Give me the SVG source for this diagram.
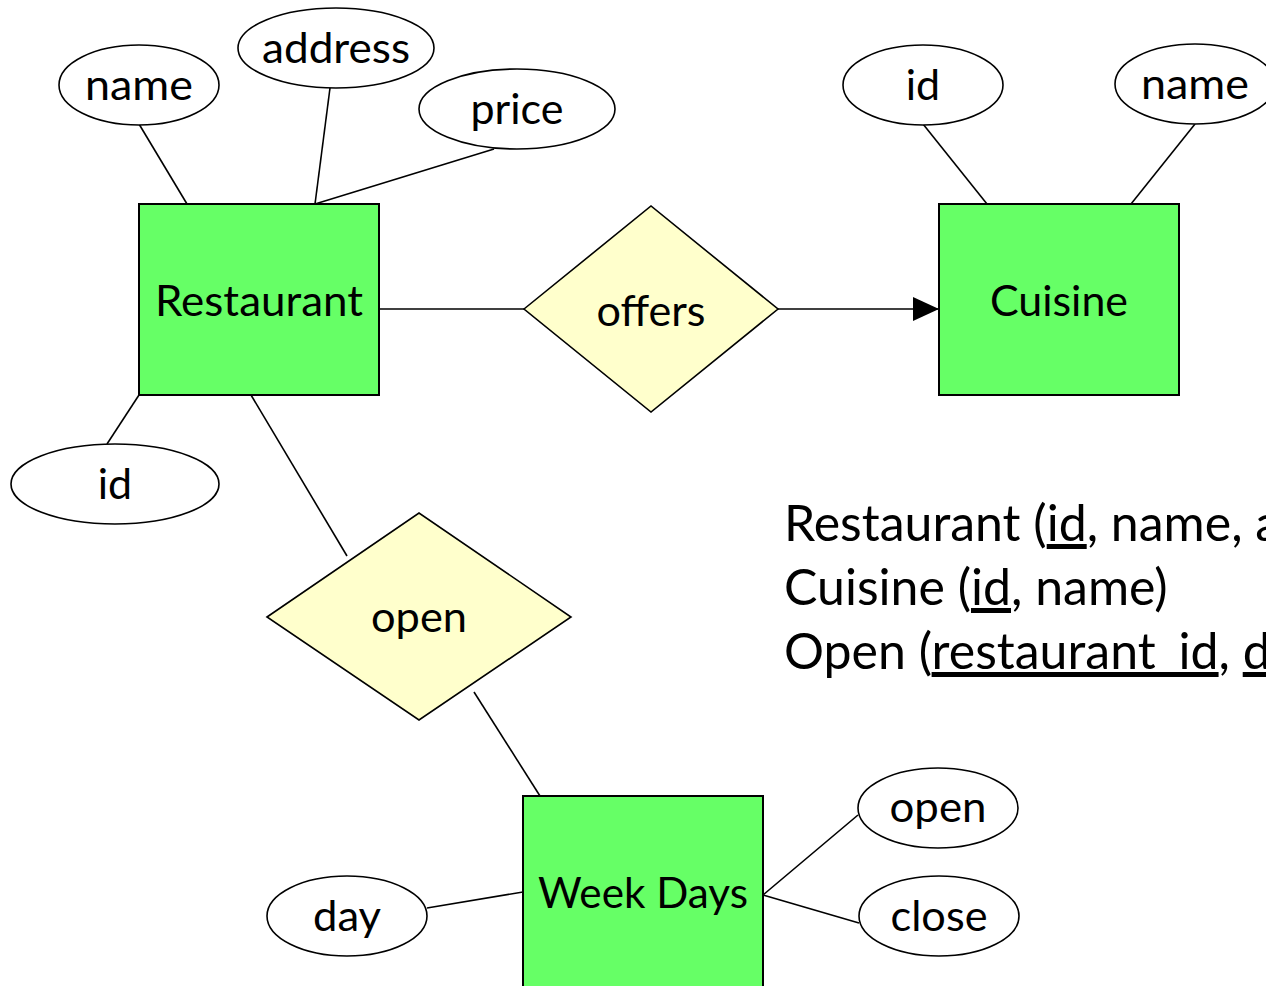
<svg xmlns="http://www.w3.org/2000/svg" width="1266" height="986" viewBox="0 0 1266 986">
  <defs>
    <marker id="arrow" viewBox="0 0 26 24" refX="26" refY="12" markerWidth="26" markerHeight="24" markerUnits="userSpaceOnUse" orient="auto">
      <path d="M0,0 L26,12 L0,24 Z" fill="#000"/>
    </marker>
    <style>
      .entity { fill: #66FF66; stroke: #000; stroke-width: 2; }
      .rel { fill: #FFFFCC; stroke: #000; stroke-width: 1.6; }
      .attr { fill: #FFFFFF; stroke: #000; stroke-width: 1.6; }
      .link { stroke: #000; stroke-width: 1.6; fill: none; }
      .lbl { font-family: Lato, "Liberation Sans", sans-serif; font-size: 43px; fill: #000; text-anchor: middle; }
      .schema { font-family: Lato, "Liberation Sans", sans-serif; font-size: 50px; fill: #000; }
      .key { text-decoration: underline; }
    </style>
  </defs>
  <rect width="1266" height="986" fill="#FFFFFF"/>

  <!-- connectors -->
  <g id="connectors">
    <line class="link" x1="139" y1="124" x2="187" y2="204"/>
    <line class="link" x1="330" y1="88" x2="315" y2="204"/>
    <line class="link" x1="494" y1="149" x2="315" y2="204"/>
    <line class="link" x1="107" y1="444" x2="139" y2="395"/>
    <line class="link" x1="379" y1="309" x2="524" y2="309"/>
    <line class="link" x1="778" y1="309" x2="939" y2="309" stroke-width="2" marker-end="url(#arrow)"/>
    <line class="link" x1="923" y1="124" x2="987" y2="204"/>
    <line class="link" x1="1195" y1="124" x2="1131" y2="204"/>
    <line class="link" x1="251" y1="395" x2="347" y2="556"/>
    <line class="link" x1="474" y1="692" x2="540" y2="796"/>
    <line class="link" x1="427" y1="908" x2="523" y2="892"/>
    <line class="link" x1="763" y1="895" x2="858" y2="815"/>
    <line class="link" x1="763" y1="895" x2="859" y2="923"/>
  </g>

  <!-- entities -->
  <g id="restaurant">
    <rect class="entity" x="139" y="204" width="240" height="191"/>
    <text class="lbl" x="259" y="316" textLength="208" lengthAdjust="spacingAndGlyphs">Restaurant</text>
  </g>
  <g id="cuisine">
    <rect class="entity" x="939" y="204" width="240" height="191"/>
    <text class="lbl" x="1059" y="316" textLength="138" lengthAdjust="spacingAndGlyphs">Cuisine</text>
  </g>
  <g id="week-days">
    <rect class="entity" x="523" y="796" width="240" height="200"/>
    <text class="lbl" x="643" y="908" textLength="210" lengthAdjust="spacingAndGlyphs">Week Days</text>
  </g>

  <!-- relationships -->
  <g id="offers">
    <polygon class="rel" points="524,309 651,206 778,309 651,412"/>
    <text class="lbl" x="651" y="326" textLength="109" lengthAdjust="spacingAndGlyphs">offers</text>
  </g>
  <g id="open-rel">
    <polygon class="rel" points="267,617 419,513 571,617 419,720"/>
    <text class="lbl" x="419" y="632" textLength="96" lengthAdjust="spacingAndGlyphs">open</text>
  </g>

  <!-- attributes -->
  <g id="restaurant-name">
    <ellipse class="attr" cx="139" cy="85" rx="80" ry="40"/>
    <text class="lbl" x="139" y="100" textLength="108" lengthAdjust="spacingAndGlyphs">name</text>
  </g>
  <g id="restaurant-address">
    <ellipse class="attr" cx="336" cy="48" rx="98" ry="40"/>
    <text class="lbl" x="336" y="63" textLength="148" lengthAdjust="spacingAndGlyphs">address</text>
  </g>
  <g id="restaurant-price">
    <ellipse class="attr" cx="517" cy="109" rx="98" ry="40"/>
    <text class="lbl" x="517" y="124" textLength="93" lengthAdjust="spacingAndGlyphs">price</text>
  </g>
  <g id="restaurant-id">
    <ellipse class="attr" cx="115" cy="484" rx="104" ry="40"/>
    <text class="lbl" x="115" y="499">id</text>
  </g>
  <g id="cuisine-id">
    <ellipse class="attr" cx="923" cy="85" rx="80" ry="40"/>
    <text class="lbl" x="923" y="100">id</text>
  </g>
  <g id="cuisine-name">
    <ellipse class="attr" cx="1195" cy="84" rx="80" ry="40"/>
    <text class="lbl" x="1195" y="99" textLength="108" lengthAdjust="spacingAndGlyphs">name</text>
  </g>
  <g id="day">
    <ellipse class="attr" cx="347" cy="916" rx="80" ry="40"/>
    <text class="lbl" x="347" y="931" textLength="68" lengthAdjust="spacingAndGlyphs">day</text>
  </g>
  <g id="open-time">
    <ellipse class="attr" cx="938" cy="808" rx="80" ry="40"/>
    <text class="lbl" x="938" y="822" textLength="97" lengthAdjust="spacingAndGlyphs">open</text>
  </g>
  <g id="close-time">
    <ellipse class="attr" cx="939" cy="916" rx="80" ry="40"/>
    <text class="lbl" x="939" y="931" textLength="97" lengthAdjust="spacingAndGlyphs">close</text>
  </g>

  <!-- relational schema -->
  <g id="schema">
    <text class="schema" x="784" y="541">Restaurant (<tspan class="key">id</tspan>, name, a</text>
    <text class="schema" x="784" y="605">Cuisine (<tspan class="key">id</tspan>, name)</text>
    <text class="schema" x="784" y="669">Open (<tspan class="key">restaurant_id</tspan>, <tspan class="key">d</tspan></text>
  </g>
</svg>
